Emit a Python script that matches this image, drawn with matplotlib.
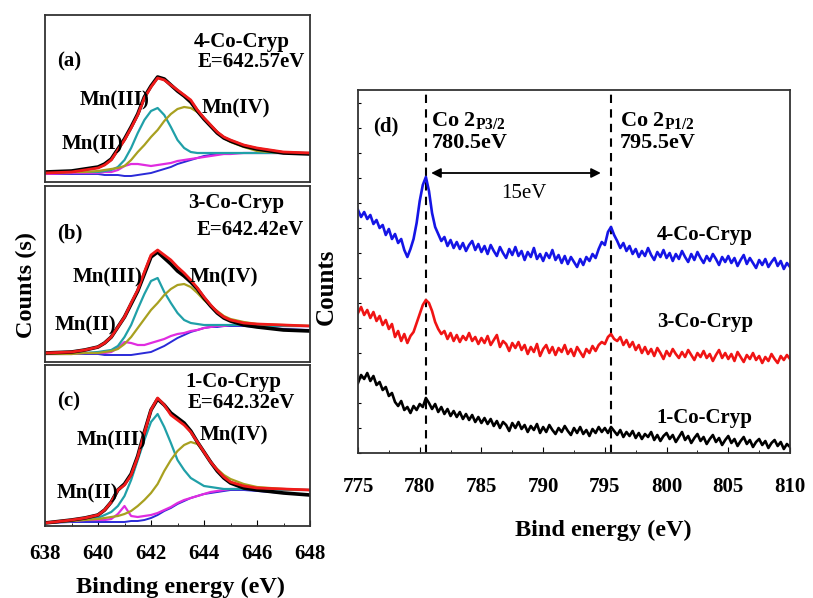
import matplotlib
matplotlib.use("Agg")
import matplotlib.pyplot as plt
import numpy as np
from matplotlib.ticker import MultipleLocator

plt.rcParams['font.family'] = ['Liberation Serif', 'DejaVu Serif']
plt.rcParams['font.weight'] = 'bold'
plt.rcParams['axes.labelweight'] = 'bold'
plt.rcParams['mathtext.fontset'] = 'custom'
plt.rcParams['mathtext.rm'] = 'Liberation Serif:bold'
plt.rcParams['mathtext.default'] = 'rm'

# ---- Mn 2p3/2 fits (panels a-c) ----
mn_energy = [638, 639, 639.5, 640, 640.25, 640.5, 640.75, 641, 641.25, 641.5, 641.75,
             642, 642.25, 642.5, 642.75, 643, 643.25, 643.5, 643.75, 644, 644.25,
             644.5, 644.75, 645, 645.5, 646, 647, 648]

# 4-Co-Cryp
a_data = [10, 11, 13, 15, 18, 23, 33, 43, 55, 68, 85, 96, 105, 103, 97, 91, 86, 80, 71, 63, 56, 49, 44, 41, 36, 33, 29, 28]
a_fit = [9, 10, 12, 14, 17, 22, 32, 42, 54, 67, 84, 95, 104, 102, 97, 92, 87, 82, 72, 64, 57, 50, 45, 42, 37, 34, 30, 29]
a_mn2 = [8, 9, 9, 9, 10, 10, 12, 16, 18, 18, 17, 16, 17, 18, 19, 21, 22, 23, 24, 25, 26, 27, 28, 28, 29, 29, 29, 29]
a_mn3 = [9, 10, 10, 10, 11, 12, 15, 22, 34, 49, 62, 71, 74, 67, 55, 42, 34, 30, 29, 29, 29, 29, 29, 29, 29, 29, 29, 29]
a_mn4 = [9, 10, 10, 11, 12, 13, 14, 16, 22, 30, 37, 45, 52, 61, 68, 73, 75, 74, 70, 64, 57, 50, 44, 40, 35, 31, 29, 29]
a_bg = [8, 8, 8, 8, 7, 7, 7, 6, 6, 7, 8, 9, 11, 13, 15, 18, 20, 22, 24, 26, 27, 28, 28, 29, 29, 29, 29, 29]

# 3-Co-Cryp
b_data = [9, 10, 12, 15, 19, 25, 35, 45, 58, 71, 88, 105, 110, 104, 98, 91, 86, 80, 73, 64, 56, 49, 44, 41, 37, 35, 32, 31]
b_fit = [9, 10, 12, 15, 19, 25, 35, 45, 59, 72, 90, 107, 112, 107, 102, 95, 89, 82, 74, 65, 57, 50, 45, 42, 39, 38, 37, 36]
b_mn2 = [8, 8, 9, 9, 9, 10, 14, 20, 19, 17, 17, 19, 21, 23, 26, 28, 29, 31, 32, 34, 35, 36, 36, 37, 37, 36, 36, 36]
b_mn3 = [8, 9, 9, 10, 11, 12, 16, 25, 37, 53, 68, 81, 84, 70, 59, 49, 42, 39, 38, 37, 37, 37, 37, 37, 37, 36, 36, 36]
b_mn4 = [8, 8, 9, 9, 10, 11, 13, 18, 25, 34, 43, 52, 59, 67, 73, 77, 78, 75, 69, 62, 56, 51, 46, 43, 40, 38, 37, 36]
b_bg = [8, 8, 8, 8, 7, 7, 7, 7, 7, 8, 9, 10, 13, 16, 20, 24, 27, 30, 32, 34, 35, 35, 36, 36, 36, 35, 33, 32]

# 1-Co-Cryp
c_data = [3, 6, 8, 11, 16, 24, 36, 42, 52, 70, 94, 116, 127, 121, 113, 108, 103, 95, 84, 74, 64, 55, 48, 43, 38, 36, 33, 31]
c_fit = [3, 6, 8, 11, 16, 24, 36, 41, 51, 69, 93, 116, 128, 121, 111, 106, 101, 94, 84, 74, 64, 56, 49, 44, 40, 38, 37, 36]
c_mn2 = [3, 5, 6, 6, 6, 7, 12, 20, 10, 9, 10, 11, 13, 16, 19, 23, 26, 28, 30, 32, 34, 35, 36, 37, 37, 37, 37, 36]
c_mn3 = [3, 5, 7, 8, 11, 14, 20, 30, 46, 66, 86, 104, 112, 99, 83, 66, 56, 48, 44, 40, 39, 38, 37, 37, 37, 37, 36, 36]
c_mn4 = [3, 5, 6, 7, 8, 9, 10, 12, 15, 20, 26, 33, 42, 55, 66, 75, 81, 84, 82, 74, 64, 57, 51, 47, 42, 39, 37, 36]
c_bg = [3, 4, 4, 4, 4, 4, 4, 4, 5, 5, 6, 8, 11, 15, 18, 22, 25, 28, 30, 32, 33, 34, 35, 36, 36, 35, 33, 31]

mn_panels = [
    ('(a)', '4-Co-Cryp', 'E=642.57eV', a_data, a_fit, a_mn2, a_mn3, a_mn4, a_bg),
    ('(b)', '3-Co-Cryp', 'E=642.42eV', b_data, b_fit, b_mn2, b_mn3, b_mn4, b_bg),
    ('(c)', '1-Co-Cryp', 'E=642.32eV', c_data, c_fit, c_mn2, c_mn3, c_mn4, c_bg),
]

# ---- Co 2p survey (panel d) ----
co_energy = np.arange(775, 810.01, 0.25)
co_4 = [243, 236, 241, 234, 238, 229, 233, 225, 228, 218, 224, 214, 219, 210, 214, 203,
        196, 204, 214, 230, 252, 268, 276, 262, 240, 226, 219, 212, 216, 207, 213, 205,
        211, 204, 210, 202, 208, 212, 203, 209, 201, 207, 199, 208, 202, 197, 206, 200,
        195, 204, 198, 206, 197, 202, 193, 201, 196, 205, 194, 199, 192, 200, 195, 203,
        193, 198, 190, 197, 189, 196, 191, 186, 194, 188, 196, 192, 199, 195, 204, 211,
        208, 221, 226, 218, 212, 205, 210, 202, 207, 199, 204, 196, 202, 197, 205, 198,
        193, 201, 196, 203, 195, 200, 192, 199, 194, 202, 196, 191, 199, 193, 201, 195,
        190, 197, 192, 199, 194, 188, 196, 191, 197, 190, 195, 187, 193, 198, 189, 195,
        190, 185, 193, 188, 194, 186, 191, 195, 187, 192, 184, 190, 186]
co_3 = [140, 146, 138, 143, 135, 141, 132, 137, 128, 133, 124, 129, 116, 122, 112, 119,
        110, 117, 121, 130, 139, 148, 153, 150, 142, 131, 124, 119, 122, 114, 120, 112,
        118, 111, 117, 113, 120, 112, 116, 109, 115, 110, 117, 108, 113, 118, 106, 112,
        109, 102, 110, 105, 111, 103, 108, 99, 106, 101, 109, 97, 104, 108, 100, 106,
        98, 105, 101, 108, 99, 104, 97, 106, 101, 96, 104, 100, 107, 102, 108, 111,
        109, 116, 119, 114, 112, 116, 108, 113, 106, 111, 103, 108, 100, 106, 99, 104,
        97, 105, 100, 94, 102, 97, 104, 99, 95, 101, 96, 103, 98, 93, 100, 96,
        102, 95, 99, 92, 98, 103, 95, 100, 94, 99, 92, 101, 96, 91, 98, 94,
        100, 93, 97, 90, 96, 92, 99, 94, 90, 97, 93, 98, 94]
co_1 = [70, 78, 74, 80, 72, 77, 68, 71, 63, 66, 57, 60, 51, 47, 52, 43,
        46, 40, 47, 43, 49, 46, 55, 50, 44, 49, 41, 46, 39, 44, 37, 42,
        36, 41, 34, 39, 33, 38, 31, 36, 30, 35, 29, 34, 27, 32, 25, 31,
        28, 22, 30, 25, 31, 24, 28, 21, 27, 23, 29, 20, 26, 21, 28, 23,
        19, 25, 21, 27, 22, 18, 25, 20, 26, 19, 23, 17, 24, 20, 26, 21,
        25, 20, 26, 22, 18, 23, 16, 21, 17, 22, 15, 20, 14, 19, 16, 21,
        13, 18, 12, 17, 20, 14, 18, 11, 16, 21, 13, 17, 10, 15, 19, 12,
        16, 9, 14, 18, 11, 15, 8, 13, 17, 10, 14, 7, 12, 16, 9, 13,
        6, 11, 14, 8, 12, 5, 10, 13, 7, 11, 4, 9, 6]
co_series = [('4-Co-Cryp', co_4, '#1515e6'), ('3-Co-Cryp', co_3, '#f01414'), ('1-Co-Cryp', co_1, 'black')]
co_peaks = [780.5, 795.5]

W, H = 813, 598
fig = plt.figure(figsize=(W / 100, H / 100), dpi=100)


def box(left, top, right, bottom):
    return [left / W, 1 - bottom / H, (right - left) / W, (bottom - top) / H]


fs = 15
frame = '#333333'
mn_boxes = [box(45, 15, 310, 182), box(45, 186, 310, 362), box(45, 365, 310, 526)]
mn_ylims = [167, 176, 161]
label_pos = [
    # (tag), name, E, Mn(III), Mn(IV), Mn(II)
    [(0.045, 0.72), (0.56, 0.84), (0.577, 0.72), (0.132, 0.49), (0.59, 0.443), (0.064, 0.222)],
    [(0.045, 0.733), (0.54, 0.903), (0.573, 0.75), (0.106, 0.483), (0.547, 0.483), (0.038, 0.21)],
    [(0.045, 0.772), (0.528, 0.896), (0.54, 0.763), (0.121, 0.534), (0.585, 0.565), (0.045, 0.205)],
]

for i, (tag, name, epos, data, fit, mn2, mn3, mn4, bg) in enumerate(mn_panels):
    ax = fig.add_axes(mn_boxes[i])
    ax.plot(mn_energy, bg, color='#2a2ad8', lw=1.4)
    ax.plot(mn_energy, mn2, color='#e02ce0', lw=1.6)
    ax.plot(mn_energy, mn3, color='#20a0a8', lw=1.6)
    ax.plot(mn_energy, mn4, color='#a8a020', lw=1.6)
    ax.plot(mn_energy, data, color='black', lw=2.6)
    ax.plot(mn_energy, fit, color='#f01a1a', lw=2.0)
    ax.set_xlim(638, 648)
    ax.set_ylim(0, mn_ylims[i])
    ax.set_yticks([])
    for s in ax.spines.values():
        s.set_color(frame)
        s.set_linewidth(1.3)
    p = label_pos[i]
    ax.text(*p[0], tag, transform=ax.transAxes, fontsize=fs, va='center')
    ax.text(*p[1], name, transform=ax.transAxes, fontsize=fs, va='center')
    ax.text(*p[2], epos, transform=ax.transAxes, fontsize=fs, va='center')
    ax.text(*p[3], 'Mn(III)', transform=ax.transAxes, fontsize=fs, va='center')
    ax.text(*p[4], 'Mn(IV)', transform=ax.transAxes, fontsize=fs, va='center')
    ax.text(*p[5], 'Mn(II)', transform=ax.transAxes, fontsize=fs, va='center')
    if i < 2:
        ax.set_xticks([])
    else:
        ax.xaxis.set_major_locator(MultipleLocator(2))
        ax.xaxis.set_minor_locator(MultipleLocator(1))
        ax.tick_params(axis='x', which='both', direction='in', labelsize=fs, pad=13)
        ax.tick_params(axis='x', which='major', length=4)
        ax.tick_params(axis='x', which='minor', length=2.5)

fig.text(180 / W, 1 - 587 / H, 'Binding energy (eV)', fontsize=17.5, fontweight='bold',
         ha='center', va='center')
fig.text(26 / W, 1 - 285 / H, 'Counts (s)', rotation=90, fontsize=17.5, fontweight='bold',
         ha='center', va='center')

# Co 2p panel
axd = fig.add_axes(box(358, 90, 790, 453))
for name, vals, col in co_series:
    axd.plot(co_energy, vals, color=col, lw=1.9)
for e in co_peaks:
    axd.axvline(e, color='black', lw=1.5, ls=(0, (4, 3)), zorder=0)
axd.set_xlim(775, 810)
axd.set_ylim(0, 363)
axd.xaxis.set_major_locator(MultipleLocator(5))
axd.xaxis.set_minor_locator(MultipleLocator(2.5))
axd.yaxis.set_major_locator(MultipleLocator(25))
axd.tick_params(axis='both', which='both', direction='in', labelsize=fs)
axd.tick_params(axis='x', which='major', length=4, pad=17)
axd.tick_params(axis='x', which='minor', length=2.5)
axd.tick_params(axis='y', length=2.5, labelleft=False)
for s in axd.spines.values():
    s.set_color(frame)
    s.set_linewidth(1.3)
fig.text(603 / W, 1 - 530 / H, 'Bind energy (eV)', fontsize=17.5, fontweight='bold',
         ha='center', va='center')
fig.text(326 / W, 1 - 287 / H, 'Counts', rotation=90, fontsize=18, fontweight='bold',
         ha='center', va='center')

axd.text(0.035, 0.899, '(d)', transform=axd.transAxes, fontsize=fs, va='center')
axd.text(0.17, 0.917, r'Co 2$_{\rm P3/2}$', transform=axd.transAxes, fontsize=fs + 1, va='center')
axd.text(0.17, 0.853, '780.5eV', transform=axd.transAxes, fontsize=fs + 1, va='center')
axd.text(0.606, 0.917, r'Co 2$_{\rm P1/2}$', transform=axd.transAxes, fontsize=fs + 1, va='center')
axd.text(0.606, 0.853, '795.5eV', transform=axd.transAxes, fontsize=fs + 1, va='center')
axd.annotate('', xy=(780.7, 280), xytext=(794.9, 280),
             arrowprops=dict(arrowstyle='<|-|>', color='black', lw=1.3, mutation_scale=14))
axd.text(788.4, 260, '15eV', fontsize=fs, fontweight='normal', ha='center', va='center')
label_y = [218, 131, 35]
for (name, vals, col), ly in zip(co_series, label_y):
    axd.text(799.2, ly, name, fontsize=fs, va='center')

fig.savefig('out.png', dpi=100)
